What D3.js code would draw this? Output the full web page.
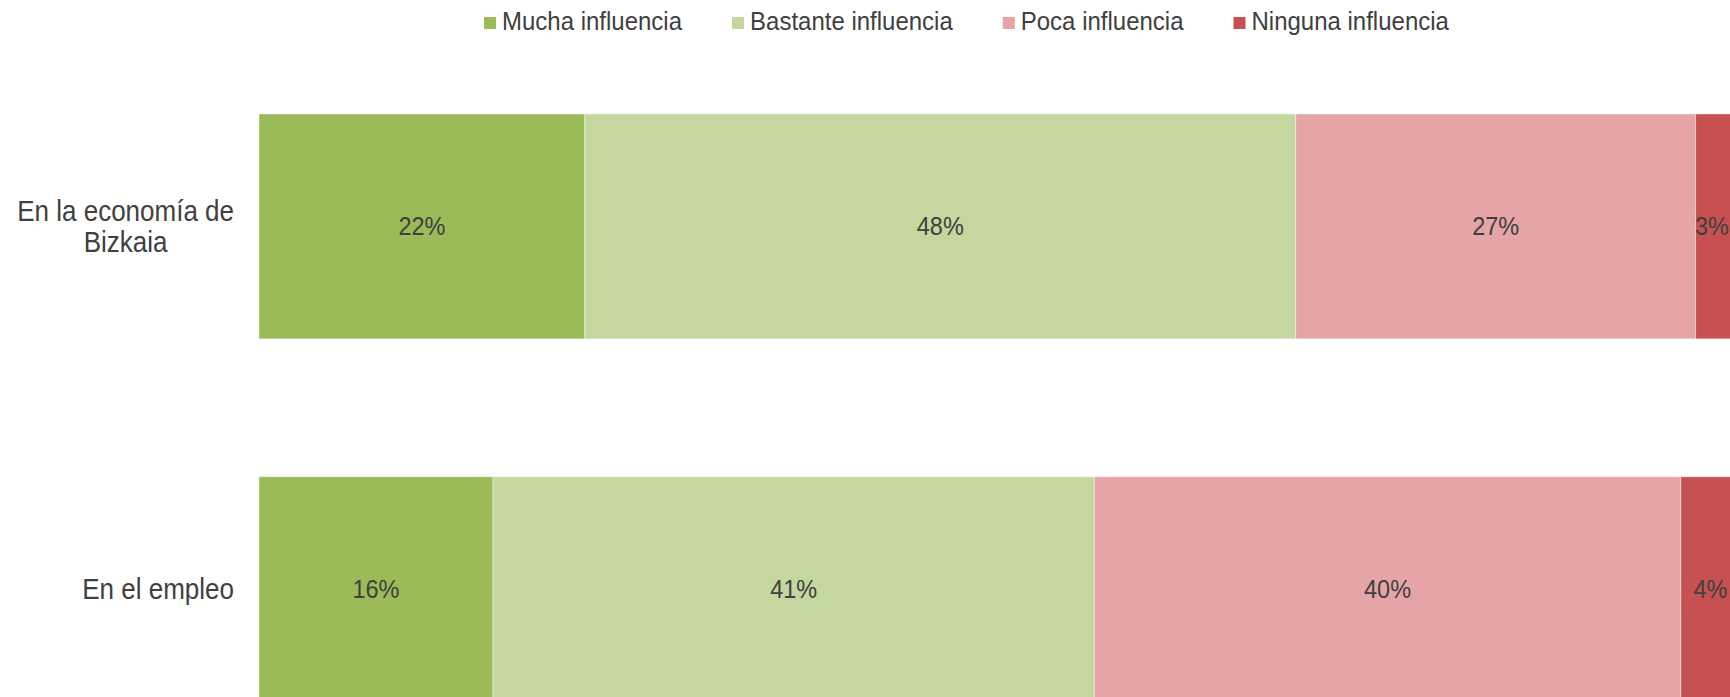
<!DOCTYPE html>
<html lang="es">
<head>
<meta charset="utf-8">
<script src="https://d3js.org/d3.v7.min.js"></script>
<style>
  body { margin: 0; background: #fff; overflow: hidden; }
  svg text { font-family: "Liberation Sans", Arial, sans-serif; fill: #404040; }
</style>
</head>
<body>
<div id="chart"></div>
<script>
// data
var categories = ["En la economía de Bizkaia", "En el empleo"];
var seriesNames = ["Mucha influencia", "Bastante influencia", "Poca influencia", "Ninguna influencia"];
var mucha    = [22.0, 15.8];
var bastante = [48.0, 40.6];
var poca     = [27.0, 39.6];
var ninguna  = [3.0, 4.0];
var colors = ["#9bbb59", "#c4d79e", "#e5a5a6", "#c75150"];

(function() {
  var width = 1730,
      height = 697,
      sy = 1.1; // the source text is a bit taller than plain Arial

  var svg = d3.select("#chart").append("svg")
      .attr("width", width)
      .attr("height", height);

  var rows = categories.map(function(c, i) {
    return { cat: c, "Mucha influencia": mucha[i], "Bastante influencia": bastante[i],
             "Poca influencia": poca[i], "Ninguna influencia": ninguna[i] };
  });

  var x = d3.scaleLinear()
      .domain([0, 100])
      .range([259, 1740]);

  var y = d3.scaleBand()
      .domain(categories)
      .range([45, 770.6])
      .paddingInner(0.38)
      .paddingOuter(0.19);

  var z = d3.scaleOrdinal()
      .domain(seriesNames)
      .range(colors);

  var stacked = d3.stack().keys(seriesNames)(rows);

  var layer = svg.append("g")
    .selectAll("g")
    .data(stacked)
    .enter().append("g")
      .attr("fill", function(d) { return z(d.key); });

  layer.selectAll("rect")
    .data(function(d) { return d; })
    .enter().append("rect")
      .attr("x", function(d) { return x(d[0]); })
      .attr("y", function(d) { return y(d.data.cat); })
      .attr("width", function(d) { return x(d[1]) - x(d[0]); })
      .attr("height", y.bandwidth())
      .attr("stroke", "#fff")
      .attr("stroke-opacity", 0.45)
      .attr("stroke-width", 1);

  // value labels, kept inside the window
  layer.selectAll("g.lab")
    .data(function(d) { return d; })
    .enter().append("g")
      .attr("class", "lab")
      .each(function(d) {
        var g = d3.select(this);
        var t = g.append("text")
          .attr("text-anchor", "middle")
          .attr("dy", "0.35em")
          .attr("font-size", 23.5)
          .text(Math.round(d[1] - d[0]) + "%");
        var w = t.node().getComputedTextLength();
        var cx = Math.min((x(d[0]) + x(d[1])) / 2, width - w / 2 - 1);
        var cy = y(d.data.cat) + y.bandwidth() / 2;
        g.attr("transform", "translate(" + cx + "," + cy + ") scale(1," + sy + ")");
      });

  // category labels, wrapped and centred in a right aligned box
  var labelRight = 234, maxW = 230, lh = 31;
  categories.forEach(function(c) {
    var probe = svg.append("text").attr("font-size", 26);
    var words = c.split(" "), lines = [], line = [];
    words.forEach(function(w) {
      line.push(w);
      probe.text(line.join(" "));
      if (probe.node().getComputedTextLength() > maxW && line.length > 1) {
        line.pop();
        lines.push(line.join(" "));
        line = [w];
      }
    });
    lines.push(line.join(" "));
    var widest = d3.max(lines, function(l) { probe.text(l); return probe.node().getComputedTextLength(); });
    probe.remove();
    var cx = labelRight - widest / 2;
    var cy = y(c) + y.bandwidth() / 2;
    var t = svg.append("g")
        .attr("transform", "translate(" + cx + "," + cy + ") scale(1," + sy + ")")
      .append("text")
        .attr("font-size", 26)
        .attr("text-anchor", "middle");
    lines.forEach(function(l, i) {
      t.append("tspan")
        .attr("x", 0)
        .attr("y", (i - (lines.length - 1) / 2) * lh / sy)
        .attr("dy", "0.35em")
        .text(l);
    });
  });

  // legend
  var legend = svg.append("g");
  var lx = 484;
  seriesNames.forEach(function(s) {
    legend.append("rect")
      .attr("x", lx)
      .attr("y", 17)
      .attr("width", 12)
      .attr("height", 12)
      .attr("fill", z(s));
    var tx = legend.append("g")
        .attr("transform", "translate(" + (lx + 18) + ",30) scale(1," + sy + ")")
      .append("text")
        .attr("font-size", 24)
        .text(s);
    lx += 18 + tx.node().getComputedTextLength() + 50;
  });
})();
</script>
</body>
</html>
